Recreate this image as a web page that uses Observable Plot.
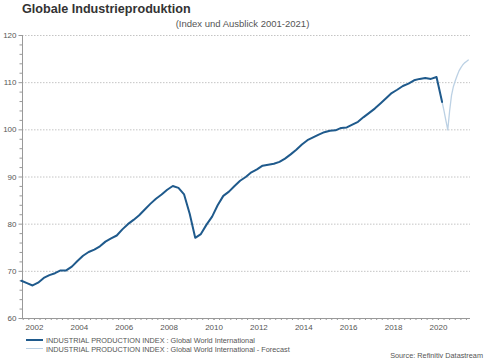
<!DOCTYPE html>
<html><head><meta charset="utf-8">
<script src="https://cdn.jsdelivr.net/npm/d3@7"></script>
<script src="https://cdn.jsdelivr.net/npm/@observablehq/plot@0.6"></script>
<style>
body{margin:0;background:#fff;font-family:"Liberation Sans",Arial,sans-serif;}
#wrap{position:relative;width:485px;height:360px;overflow:hidden;}
#wrap svg{position:absolute;left:0;top:0;}
.t{position:absolute;white-space:nowrap;line-height:1;}
#title{left:22px;top:3px;font-size:12.6px;font-weight:bold;color:#333;}
#sub{left:0;width:485px;text-align:center;top:19px;font-size:9.5px;color:#555;}
.leg{left:46px;font-size:7.3px;color:#555;}
.sw{position:absolute;left:26px;width:17px;}
#src{right:2px;top:351.5px;font-size:7.3px;color:#555;}
</style></head>
<body>
<div id="wrap">
  <div id="chart"></div>
  <div class="t" id="title">Globale Industrieproduktion</div>
  <div class="t" id="sub">(Index und Ausblick 2001-2021)</div>
  <div class="sw" style="top:338.5px;height:2px;background:#1f5a8c"></div>
  <div class="t leg" style="top:337px">INDUSTRIAL PRODUCTION INDEX : Global World International</div>
  <div class="sw" style="top:347.5px;height:1px;background:#bcd1e4"></div>
  <div class="t leg" style="top:346px">INDUSTRIAL PRODUCTION INDEX : Global World International - Forecast</div>
  <div class="t" id="src">Source: Refinitiv Datastream</div>
</div>
<script>
// Quarterly index values, Jun 2001 .. Mar 2020 (Jun, Sep, Dec, Mar ...)
const mainStart = "2001-06-01";
const mainValues = [
  68.0, 67.5, 67.0,
  67.6, 68.6, 69.2, 69.6,
  70.2, 70.2, 71.0, 72.2,
  73.3, 74.1, 74.6, 75.3,
  76.3, 77.0, 77.6, 78.9,
  80.0, 80.9, 81.9, 83.1,
  84.3, 85.4, 86.3, 87.3,
  88.1, 87.7, 86.3, 82.2,
  77.1, 77.9, 79.9, 81.6,
  84.0, 86.0, 86.9, 88.1,
  89.2, 90.0, 91.0, 91.6,
  92.4, 92.6, 92.8, 93.2,
  93.9, 94.8, 95.8, 96.9,
  97.8, 98.4, 99.0, 99.5,
  99.8, 99.9, 100.4, 100.5,
  101.1, 101.7, 102.7, 103.6,
  104.5, 105.6, 106.7, 107.8,
  108.5, 109.3, 109.8, 110.5,
  110.8, 111.0, 110.8, 111.2,
  105.9
];
// Monthly forecast, Mar 2020 .. May 2021
const forecastStart = "2020-03-01";
const forecastValues = [105.9, 104.0, 102.0, 100.0, 104.0, 107.3, 109.2, 110.4, 111.5, 112.5, 113.2, 113.8, 114.2, 114.5, 114.8];

const yTicks = [60, 70, 80, 90, 100, 110, 120];
const yGrid = [70, 80, 90, 100, 110, 120];
const yMinor = [62,64,66,68,72,74,76,78,82,84,86,88,92,94,96,98,102,104,106,108,112,114,116,118];
const xLabelYears = [2002, 2004, 2006, 2008, 2010, 2012, 2014, 2016, 2018, 2020];
const xDomain = ["2001-06-20", "2021-06-06"];

const main = mainValues.map((v, i) => ({date: d3.utcMonth.offset(new Date(mainStart), 3 * i), value: v}));
const forecast = forecastValues.map((v, i) => ({date: d3.utcMonth.offset(new Date(forecastStart), i), value: v}));
const dom = xDomain.map(s => new Date(s));
const quarterTicks = d3.utcMonth.every(3).range(dom[0], dom[1]);
const yearTicks = xLabelYears.map(y => new Date(Date.UTC(y, 0, 1)));

const chart = Plot.plot({
  width: 485, height: 360,
  marginLeft: 22, marginRight: 15, marginTop: 35, marginBottom: 42,
  style: {fontFamily: "Liberation Sans, Arial, sans-serif", fontSize: "8px", background: "transparent"},
  x: {type: "utc", domain: dom},
  y: {domain: [60, 120]},
  marks: [
    Plot.gridY(yGrid, {stroke: "#c4c4c4", strokeOpacity: 1, strokeDasharray: "1.5,1.5"}),
    Plot.axisY(yMinor, {tickSize: 2.5, tickFormat: () => "", stroke: "#999", label: null}),
    Plot.axisY(yTicks, {tickSize: 3.5, tickPadding: 2.5, fill: "#555", stroke: "#999", label: null, fontSize: 8}),
    Plot.axisX(quarterTicks, {tickSize: 2, tickFormat: () => "", stroke: "#999", label: null}),
    Plot.axisX(yearTicks, {tickSize: 2, tickPadding: 3.5, tickFormat: d3.utcFormat("%Y"), fill: "#555", stroke: "#999", label: null, fontSize: 8}),
    Plot.ruleY([60], {stroke: "#999"}),
    Plot.ruleX([dom[0]], {stroke: "#999"}),
    Plot.line(forecast, {x: "date", y: "value", stroke: "#bcd1e4", strokeWidth: 1.3}),
    Plot.line(main, {x: "date", y: "value", stroke: "#1f5a8c", strokeWidth: 2})
  ]
});
document.getElementById("chart").appendChild(chart);
</script>
</body></html>
